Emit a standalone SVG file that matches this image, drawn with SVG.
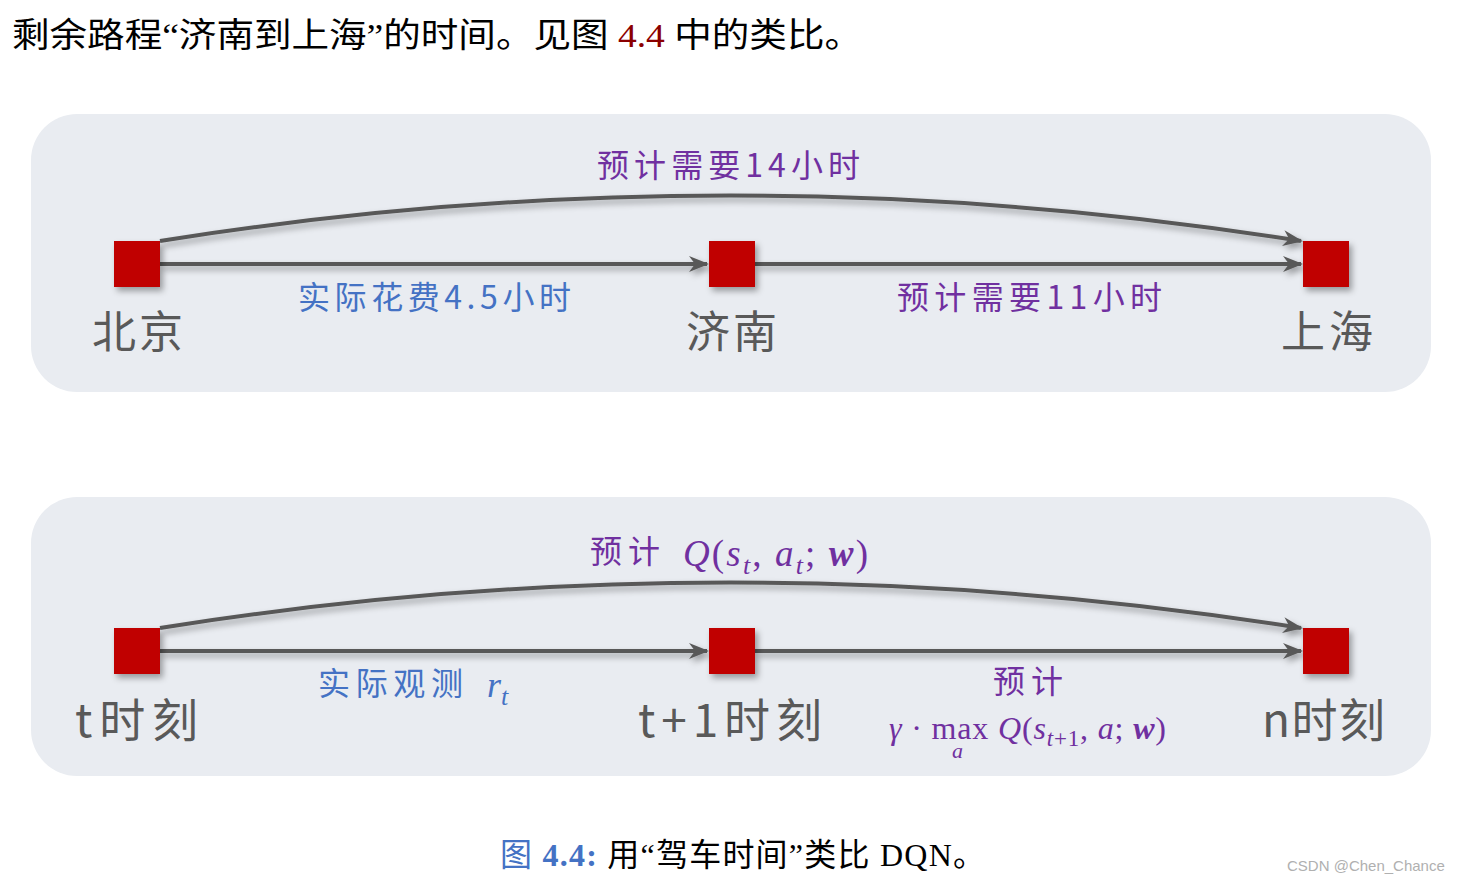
<svg xmlns="http://www.w3.org/2000/svg" width="1466" height="883" viewBox="0 0 1466 883">
<defs>
<filter id="sh" filterUnits="userSpaceOnUse" x="0" y="0" width="1466" height="883">
<feDropShadow dx="3" dy="4" stdDeviation="3" flood-color="#000" flood-opacity="0.35"/>
</filter>
<marker id="ah" viewBox="0 0 20 16" refX="18" refY="8" markerWidth="20" markerHeight="16" markerUnits="userSpaceOnUse" orient="auto">
<path d="M0,0 L20,8 L0,16 L6,8 Z" fill="#595959"/>
</marker>
<style>
.panel{fill:#e9ecf1}
.node{fill:#c00000;filter:url(#sh)}
.edge{fill:none;stroke:#595959;stroke-width:4;marker-end:url(#ah);filter:url(#sh)}
.city{font-family:"Noto Sans CJK SC",sans-serif;font-size:44px;fill:#595959;text-anchor:middle}
.lbl{font-family:"Noto Sans CJK SC",sans-serif;font-size:32px}
.p{fill:#7030a0}
.b{fill:#4472c4}
.c{text-anchor:middle}
.top{font-family:"Liberation Serif","Noto Sans CJK SC",serif;font-size:34px;fill:#000}
.math{font-family:"Liberation Serif",serif}
</style>
</defs>
<text class="top" x="12" y="47" textLength="850" lengthAdjust="spacingAndGlyphs">剩余路程“济南到上海”的时间。见图 <tspan fill="#8b0000">4.4</tspan> 中的类比。</text>

<rect class="panel" x="31" y="114" width="1400" height="278" rx="46"/>
<rect class="panel" x="31" y="497" width="1400" height="279" rx="46"/>

<g id="connectors">
<path class="edge" d="M160,241 Q730,150 1301,241"/>
<path class="edge" d="M160,264 L707,264"/>
<path class="edge" d="M755,264 L1301,264"/>
<path class="edge" d="M160,628 Q730,537 1301,628"/>
<path class="edge" d="M160,651 L707,651"/>
<path class="edge" d="M755,651 L1301,651"/>
</g>

<g id="beijing"><rect class="node" x="114" y="241" width="46" height="46"/><text class="city" x="92" y="348" text-anchor="start" style="text-anchor:start" textLength="91">北京</text></g>
<g id="jinan"><rect class="node" x="709" y="241" width="46" height="46"/><text class="city" x="686" y="348" style="text-anchor:start" textLength="91">济南</text></g>
<g id="shanghai"><rect class="node" x="1303" y="241" width="46" height="46"/><text class="city" x="1281" y="348" style="text-anchor:start" textLength="92">上海</text></g>

<g id="labels1">
<text class="lbl p" x="597" y="177" textLength="263">预计需要14小时</text>
<text class="lbl b" x="298" y="309" textLength="273">实际花费4.5小时</text>
<text class="lbl p" x="897" y="309" textLength="265">预计需要11小时</text>
</g>

<g id="t"><rect class="node" x="114" y="628" width="46" height="46"/><text class="city" x="75" y="737" font-size="46" style="text-anchor:start;font-size:46px" textLength="123">t时刻</text></g>
<g id="t1"><rect class="node" x="709" y="628" width="46" height="46"/><text class="city" x="638" y="737" style="text-anchor:start;font-size:46px" textLength="184">t+1时刻</text></g>
<g id="n"><rect class="node" x="1303" y="628" width="46" height="46"/><text class="city" x="1262" y="737" style="text-anchor:start;font-size:46px" textLength="123">n时刻</text></g>

<g id="labels2">
<text class="lbl p" x="590" y="563" textLength="70">预计</text>
<text class="math" x="683" y="566" font-size="37" fill="#7030a0" textLength="185"><tspan font-style="italic">Q</tspan>(<tspan font-style="italic">s</tspan><tspan font-style="italic" font-size="26" dy="8">t</tspan><tspan dy="-8">, </tspan><tspan font-style="italic">a</tspan><tspan font-style="italic" font-size="26" dy="8">t</tspan><tspan dy="-8">; </tspan><tspan font-style="italic" font-weight="bold">w</tspan>)</text>
<text class="lbl b" x="318" y="695" textLength="145">实际观测</text>
<text class="math" x="487" y="697" font-size="36" fill="#4472c4" font-style="italic">r<tspan font-size="26" dy="8">t</tspan></text>
<text class="lbl p" x="993" y="693" textLength="70">预计</text>
<text class="math" x="889" y="739" font-size="32" fill="#7030a0" textLength="277"><tspan font-style="italic">γ</tspan> · max <tspan font-style="italic">Q</tspan>(<tspan font-style="italic">s</tspan><tspan font-size="23" dy="7"><tspan font-style="italic">t</tspan>+1</tspan><tspan dy="-7">, </tspan><tspan font-style="italic">a</tspan>; <tspan font-style="italic" font-weight="bold">w</tspan>)</text>
<text class="math" x="952" y="758" font-size="22" fill="#7030a0" font-style="italic">a</text>
</g>

<text x="500" y="866" font-size="32" font-family="Liberation Serif,'Noto Sans CJK SC',serif" fill="#000" textLength="485"><tspan fill="#4472c4">图 <tspan font-weight="bold">4.4:</tspan></tspan> 用“驾车时间”类比 DQN。</text>
<text x="1287" y="871" font-size="15" font-family="Liberation Sans,sans-serif" fill="#b0b0b0">CSDN @Chen_Chance</text>
</svg>
